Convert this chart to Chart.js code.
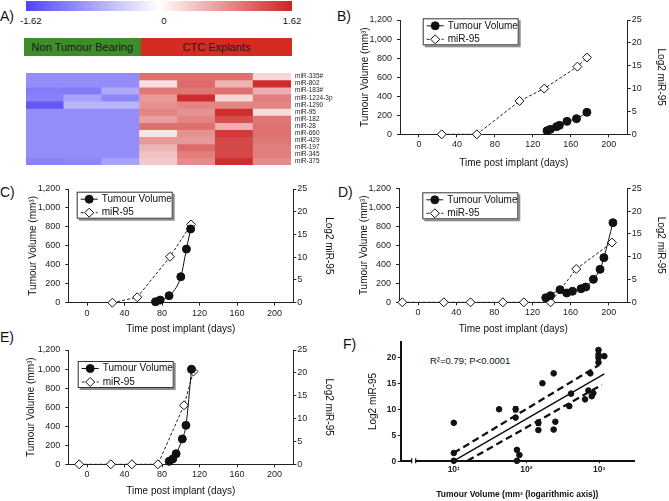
<!DOCTYPE html>
<html>
<head>
<meta charset="utf-8">
<script src="https://cdn.jsdelivr.net/npm/chart.js@4.4.1/dist/chart.umd.min.js"></script>
<style>
  body { margin: 0; width: 669px; height: 501px; position: relative; overflow: hidden; background: #fff;
         font-family: "Liberation Sans", Arial, Helvetica, sans-serif; color: #111; }
  .txt { position: absolute; white-space: nowrap; line-height: 12px; }
  .panel { position: absolute; font-size: 14px; line-height: 14px; color: #111; }
  .grp { position: absolute; top: 38px; height: 18px; line-height: 18px; text-align: center; font-size: 11px; color: #1a1a1a; }
</style>
</head>
<body>

<div class="panel" style="left:0;top:9px">A)</div>
<div class="panel" style="left:337px;top:9px">B)</div>
<div class="panel" style="left:0;top:185px">C)</div>
<div class="panel" style="left:338px;top:185px">D)</div>
<div class="panel" style="left:0;top:330px">E)</div>
<div class="panel" style="left:343px;top:337px">F)</div>

<div id="colorbar" style="position:absolute;left:26px;top:1px;width:266px;height:10px"></div>
<div id="cbLabels"></div>
<div id="groups"></div>
<div class="txt" style="left:430px;top:355px;font-size:9.5px">R²=0.79; P&lt;0.0001</div>

<script>
// ---------- A) heatmap ----------
const mirLabels = ['miR-335#', 'miR-802', 'miR-183#', 'miR-1224-3p', 'miR-1290', 'miR-95', 'miR-182',
                   'miR-28', 'miR-660', 'miR-429', 'miR-197', 'miR-345', 'miR-375'];
const sampleCols = ['NTB 1', 'NTB 2', 'NTB 3', 'CTC 1', 'CTC 2', 'CTC 3', 'CTC 4'];
const groupNames = ['Non Tumour Bearing', 'CTC Explants'];
// rows follow mirLabels, columns follow sampleCols
const heatValues = [
  [-1.0, -1.0, -1.0, 1.05, 1.05, 1.05, 0.3],
  [-1.0, -1.0, -1.0, 0.25, 1.1, 0.55, 1.55],
  [-1.15, -1.15, -0.75, 1.0, 1.0, 1.05, 0.6],
  [-1.1, -0.8, -1.05, 0.75, 1.55, 0.3, 0.95],
  [-1.45, -0.65, -0.65, 0.8, 0.9, 0.9, 0.9],
  [-1.0, -1.0, -1.0, 0.9, 0.8, 1.55, 0.25],
  [-1.0, -1.0, -1.0, 0.7, 0.9, 1.3, 1.0],
  [-1.0, -1.0, -1.0, 1.05, 1.05, 0.6, 1.05],
  [-1.0, -1.0, -1.0, 0.2, 0.8, 1.45, 1.05],
  [-1.0, -1.0, -1.0, 0.75, 0.75, 1.35, 1.0],
  [-1.0, -1.0, -1.0, 0.55, 1.1, 1.35, 0.95],
  [-1.0, -1.0, -1.0, 0.45, 0.95, 1.35, 0.95],
  [-1.1, -1.05, -0.8, 0.4, 0.85, 1.55, 0.85]
];
const heatMin = -1.62, heatMax = 1.62;
const colorBarTicks = ['-1.62', '0', '1.62'];

// ---------- B) - E) time courses ----------
const dayTicks = [0, 40, 80, 120, 160, 200];
const volTicks = [0, 200, 400, 600, 800, 1000, 1200];
const log2Ticks = [0, 5, 10, 15, 20, 25];

const bTumourDays = [135, 138.5, 145, 148, 156, 166, 177];
const bTumourVol  = [38, 52, 80, 94, 136, 164, 231];
const bMirDays    = [24, 61, 106, 132, 167, 177];
const bMirLog2    = [0, 0, 7.3, 10.0, 14.8, 16.8];

const cTumourDays = [73, 78, 87.5, 100, 106, 110.5];
const cTumourVol  = [10, 28, 74, 274, 566, 778];
const cMirDays    = [27, 53.5, 88.5, 111];
const cMirLog2    = [0, 1.2, 10.1, 17.2];

const dTumourDays = [134, 139, 149, 156, 162, 171, 176, 184, 191, 195, 204.5];
const dTumourVol  = [48, 70, 133, 98, 116, 143, 161, 242, 347, 470, 838];
const dMirDays    = [-16.5, 27, 55, 89, 111, 139, 166, 203.5];
const dMirLog2    = [0, 0, 0, 0, 0, 0, 7.3, 13.1];

const eTumourDays = [87.6, 91.4, 95, 101.6, 105.5, 111.4];
const eTumourVol  = [31, 56, 111, 266, 409, 998];
const eMirDays    = [-8.4, 25.3, 47.8, 75.6, 103.4, 113.5];
const eMirLog2    = [0, 0, 0, 0, 12.9, 20.3];

// ---------- F) correlation ----------
const fVolume = [10, 10, 10, 42, 71, 71, 74, 80, 74, 146, 146, 166, 237, 237, 250, 389, 411,
                 640, 711, 791, 757, 832, 980, 980, 980, 980, 1180];
const fLog2   = [7.4, 1.6, 0.1, 10.0, 10.0, 8.4, 2.2, 1.2, 0.1, 7.4, 6.0, 15.0, 16.9, 6.1, 7.6, 10.6, 13.0,
                 11.9, 13.6, 12.5, 16.9, 13.1, 21.4, 20.5, 19.9, 19.0, 20.2];
const fErrVolume = [71, 146];
const fErrLog2   = [10.0, 7.4];
const fErrSize   = [0.5, 0.5];
const fitX   = [10, 1180];
const fitY   = [0.1, 16.8];
const upperX = [10, 1000];
const upperY = [1.6, 18.5];
const lowerX = [15.5, 1090];
const lowerY = [0.1, 14.7];
const fXTicks = [10, 100, 1000];
const fXTickLabels = ['10¹', '10²', '10³'];
const fYTicks = [0, 5, 10, 15, 20];

const FONT = '"Liberation Sans", Arial, Helvetica, sans-serif';
Chart.defaults.font.family = FONT;
Chart.defaults.color = '#222';

function heatColor(v) {
  const t = Math.max(-1, Math.min(1, v / heatMax));
  const end = t < 0 ? [80, 70, 245] : [205, 35, 35];
  const k = Math.abs(t);
  const c = end.map(e => Math.round(255 + (e - 255) * k));
  return `rgb(${c[0]},${c[1]},${c[2]})`;
}

function makeCanvas(box) {
  const c = document.createElement('canvas');
  c.width = box.w; c.height = box.h;
  c.style.cssText = `position:absolute;left:${box.l}px;top:${box.t}px;width:${box.w}px;height:${box.h}px`;
  document.body.appendChild(c);
  return c;
}

// colour bar + group bar (legend parts of the heatmap)
document.getElementById('colorbar').style.background =
  `linear-gradient(to right, ${heatColor(heatMin)}, #fff 50%, ${heatColor(heatMax)})`;
const cbPos = [[20, 'left'], [164, 'center'], [292, 'center']];
document.getElementById('cbLabels').innerHTML = colorBarTicks.map((t, i) => {
  const [x, al] = cbPos[i];
  const shift = al === 'center' ? 'transform:translateX(-50%);' : '';
  return `<div class="txt" style="left:${x}px;top:15px;font-size:9.5px;${shift}">${t}</div>`;
}).join('');
const grpColors = ['#3f8c2b', '#d52b23'];
let gx = 24;
document.getElementById('groups').innerHTML = groupNames.map((g, i) => {
  const w = i === 0 ? 116.7 : 151.6;
  const s = `<div class="grp" style="left:${gx}px;width:${w}px;background:${grpColors[i]}">${g}</div>`;
  gx += w;
  return s;
}).join('');

new Chart(makeCanvas({ l: 26, t: 65, w: 310, h: 108 }), {
  type: 'bar',
  data: {
    labels: sampleCols,
    datasets: mirLabels.map((name, r) => ({
      label: name,
      data: sampleCols.map(() => 1),
      backgroundColor: heatValues[r].map(heatColor),
      borderWidth: 0,
      barPercentage: 1,
      categoryPercentage: 1
    }))
  },
  options: {
    responsive: false, animation: false, devicePixelRatio: 1,
    layout: { padding: { top: 5, bottom: 5.3, left: 0, right: 0 } },
    plugins: { legend: { display: false }, tooltip: { enabled: false } },
    scales: {
      x: { stacked: true, display: false },
      y: { stacked: true, display: false, min: 0, max: mirLabels.length, reverse: true },
      y2: {
        type: 'category', labels: mirLabels, position: 'right', offset: true,
        grid: { display: false, drawTicks: false }, border: { display: false },
        ticks: { font: { size: 6.5 }, color: '#222', padding: 4, autoSkip: false },
        afterFit: s => { s.width = 45; }
      }
    }
  }
});

// legend box drawn from the datasets
const boxLegend = {
  id: 'boxLegend',
  afterDraw(chart, args, o) {
    const ctx = chart.ctx, a = chart.chartArea;
    const x = a.left + o.x, y = a.top + o.y, w = 96, h = 27;
    ctx.save();
    ctx.fillStyle = '#8c8c8c'; ctx.fillRect(x + 2, y + 2, w, h);
    ctx.fillStyle = '#fff'; ctx.fillRect(x, y, w, h);
    ctx.strokeStyle = '#333'; ctx.lineWidth = 1; ctx.strokeRect(x + 0.5, y + 0.5, w - 1, h - 1);
    chart.data.datasets.forEach((ds, i) => {
      const ry = y + 7.5 + i * 13.5;
      ctx.strokeStyle = ds.borderColor; ctx.lineWidth = ds.borderWidth;
      ctx.setLineDash(ds.borderDash || []);
      ctx.beginPath(); ctx.moveTo(x + 4, ry); ctx.lineTo(x + 21, ry); ctx.stroke();
      ctx.setLineDash([]);
      const r = ds.pointRadius, px = x + 12.5;
      ctx.beginPath();
      if (ds.pointStyle === 'rectRot') {
        ctx.moveTo(px, ry - r); ctx.lineTo(px + r, ry); ctx.lineTo(px, ry + r); ctx.lineTo(px - r, ry); ctx.closePath();
      } else {
        ctx.arc(px, ry, r, 0, Math.PI * 2);
      }
      ctx.fillStyle = ds.pointBackgroundColor; ctx.fill();
      ctx.strokeStyle = ds.pointBorderColor; ctx.lineWidth = 1; ctx.stroke();
      ctx.fillStyle = '#111'; ctx.font = '10px ' + FONT; ctx.textBaseline = 'middle';
      ctx.fillText(ds.label, x + 25, ry);
    });
    ctx.restore();
  }
};

function geom(box, area, titles, lh) {
  return {
    leftW: area.l - box.l,
    rightW: box.l + box.w - area.r,
    bottomH: box.t + box.h - area.b,
    topPad: area.t - box.t,
    leftTitlePad: titles.left - box.l - lh / 2,
    rightTitlePad: box.l + box.w - titles.right - lh / 2,
    xTitlePad: box.t + box.h - titles.bottom - lh / 2
  };
}

function axisGrid(len) {
  return { display: true, drawOnChartArea: false, drawTicks: true, tickLength: len, color: '#222' };
}

function timeCourse(box, area, titles, legendAt, tumourDays, tumourVol, mirDays, mirLog2) {
  const g = geom(box, area, titles, 12);
  const tickFont = { size: 9 };
  new Chart(makeCanvas(box), {
    type: 'scatter',
    data: {
      datasets: [
        {
          label: 'Tumour Volume', yAxisID: 'y', showLine: true, clip: false,
          data: tumourDays.map((d, i) => ({ x: d, y: tumourVol[i] })),
          borderColor: '#111', borderWidth: 1, cubicInterpolationMode: 'monotone',
          pointStyle: 'circle', pointRadius: 4, pointBackgroundColor: '#111', pointBorderColor: '#111'
        },
        {
          label: 'miR-95', yAxisID: 'y2', showLine: true, clip: false,
          data: mirDays.map((d, i) => ({ x: d, y: mirLog2[i] })),
          borderColor: '#222', borderWidth: 1, borderDash: [3, 2],
          pointStyle: 'rectRot', pointRadius: 4.5, pointBackgroundColor: '#fff',
          pointBorderColor: '#111', pointBorderWidth: 1
        }
      ]
    },
    options: {
      responsive: false, animation: false, devicePixelRatio: 1,
      layout: { padding: { top: g.topPad, left: 0, right: 0, bottom: 0 } },
      plugins: { legend: { display: false }, tooltip: { enabled: false }, boxLegend: legendAt },
      scales: {
        x: {
          type: 'linear', min: -20, max: 220,
          afterBuildTicks: s => { s.ticks = dayTicks.map(v => ({ value: v })); },
          afterFit: s => { s.height = g.bottomH; },
          grid: axisGrid(3), border: { display: true, color: '#222', width: 1 },
          ticks: { font: tickFont, color: '#222', padding: 2, maxRotation: 0, autoSkip: false },
          title: { display: true, text: 'Time post implant (days)', font: { size: 10 }, color: '#111',
                   padding: { top: 0, bottom: g.xTitlePad } }
        },
        y: {
          position: 'left', min: 0, max: 1200,
          afterBuildTicks: s => { s.ticks = volTicks.map(v => ({ value: v })); },
          afterFit: s => { s.width = g.leftW; },
          grid: axisGrid(3), border: { display: true, color: '#222', width: 1 },
          ticks: { font: tickFont, color: '#222', padding: 5 },
          title: { display: true, text: 'Tumour Volume (mm³)', font: { size: 10 }, color: '#111',
                   padding: { top: g.leftTitlePad, bottom: 0 } }
        },
        y2: {
          position: 'right', min: 0, max: 25,
          afterBuildTicks: s => { s.ticks = log2Ticks.map(v => ({ value: v })); },
          afterFit: s => { s.width = g.rightW; },
          grid: axisGrid(3), border: { display: true, color: '#222', width: 1 },
          ticks: { font: tickFont, color: '#222', padding: 1 },
          title: { display: true, text: 'Log2 miR-95', font: { size: 10 }, color: '#111',
                   padding: { top: g.rightTitlePad, bottom: 0 } }
        }
      }
    },
    plugins: [boxLegend]
  });
}

timeCourse({ l: 355, t: 0, w: 314, h: 175 }, { l: 400, t: 20, r: 627.7, b: 134.3 },
           { left: 365.7, right: 661, bottom: 163.3 }, { x: 22.7, y: -1.7 },
           bTumourDays, bTumourVol, bMirDays, bMirLog2);
timeCourse({ l: 22, t: 175, w: 316, h: 160 }, { l: 68.3, t: 189, r: 293.3, b: 302.7 },
           { left: 33.3, right: 328.3, bottom: 329 }, { x: 8.4, y: 2.7 },
           cTumourDays, cTumourVol, cMirDays, cMirLog2);
timeCourse({ l: 355, t: 175, w: 314, h: 160 }, { l: 399, t: 188.3, r: 627.7, b: 302.3 },
           { left: 364.3, right: 661, bottom: 329 }, { x: 23.3, y: 4 },
           dTumourDays, dTumourVol, dMirDays, dMirLog2);
timeCourse({ l: 22, t: 335, w: 316, h: 166 }, { l: 68.3, t: 350, r: 293.3, b: 464.3 },
           { left: 31.7, right: 328.3, bottom: 491.7 }, { x: 9.4, y: 11 },
           eTumourDays, eTumourVol, eMirDays, eMirLog2);

// ---------- F) ----------
const errorBars = {
  id: 'errorBars',
  afterDatasetsDraw(chart) {
    const { ctx, scales: { x, y } } = chart;
    ctx.save();
    ctx.strokeStyle = '#111'; ctx.lineWidth = 1.3;
    fErrVolume.forEach((v, i) => {
      const px = x.getPixelForValue(v);
      const y1 = y.getPixelForValue(fErrLog2[i] - fErrSize[i]);
      const y2 = y.getPixelForValue(fErrLog2[i] + fErrSize[i]);
      ctx.beginPath();
      ctx.moveTo(px, y1); ctx.lineTo(px, y2);
      ctx.moveTo(px - 2.5, y1); ctx.lineTo(px + 2.5, y1);
      ctx.moveTo(px - 2.5, y2); ctx.lineTo(px + 2.5, y2);
      ctx.stroke();
    });
    ctx.restore();
  }
};
const axisBreak = {
  id: 'axisBreak',
  afterDraw(chart) {
    const { ctx, chartArea: a } = chart;
    const x0 = a.left + 11, gap = 4;
    ctx.save();
    ctx.fillStyle = '#fff'; ctx.fillRect(x0, a.bottom - 2, gap, 4);
    ctx.strokeStyle = '#111'; ctx.lineWidth = 1.2;
    ctx.beginPath();
    ctx.moveTo(x0, a.bottom - 3); ctx.lineTo(x0, a.bottom + 2);
    ctx.moveTo(x0 + gap, a.bottom - 3); ctx.lineTo(x0 + gap, a.bottom + 2);
    ctx.stroke();
    ctx.restore();
  }
};

(function () {
  const box = { l: 365, t: 335, w: 304, h: 166 };
  const area = { l: 400.7, t: 340.7, r: 634, b: 461.3 };
  const leftW = area.l - box.l;
  const bottomH = box.t + box.h - area.b;
  const line = (xs, ys, dash, w) => ({
    data: xs.map((v, i) => ({ x: v, y: ys[i] })), showLine: true, pointRadius: 0,
    borderColor: '#111', borderWidth: w, borderDash: dash, clip: false
  });
  new Chart(makeCanvas(box), {
    type: 'scatter',
    data: {
      datasets: [
        { data: fVolume.map((v, i) => ({ x: v, y: fLog2[i] })), pointRadius: 2.8,
          pointBackgroundColor: '#111', pointBorderColor: '#111', clip: false },
        line(fitX, fitY, [], 1.5),
        line(upperX, upperY, [7, 4], 2.3),
        line(lowerX, lowerY, [7, 4], 2.3)
      ]
    },
    options: {
      responsive: false, animation: false, devicePixelRatio: 1,
      layout: { padding: { top: area.t - box.t, right: box.l + box.w - area.r, left: 0, bottom: 0 } },
      plugins: { legend: { display: false }, tooltip: { enabled: false } },
      scales: {
        x: {
          type: 'logarithmic', min: 1.86, max: 3020,
          afterBuildTicks: s => { s.ticks = fXTicks.map(v => ({ value: v })); },
          afterFit: s => { s.height = bottomH; },
          grid: axisGrid(2), border: { display: true, color: '#111', width: 2 },
          ticks: { font: { size: 8.5, weight: 'bold' }, color: '#222', padding: 1, maxRotation: 0, autoSkip: false,
                   callback: v => fXTickLabels[fXTicks.indexOf(v)] },
          title: { display: true, text: 'Tumour Volume (mm³ (logarithmic axis))', color: '#111',
                   font: { size: 8.5, weight: 'bold' }, padding: { top: 0, bottom: 0.9 } }
        },
        y: {
          min: 0, max: 23,
          afterBuildTicks: s => { s.ticks = fYTicks.map(v => ({ value: v })); },
          afterFit: s => { s.width = leftW; },
          grid: axisGrid(3), border: { display: true, color: '#111', width: 2 },
          ticks: { font: { size: 8.5, weight: 'bold' }, color: '#222', padding: 1.5 },
          title: { display: true, text: 'Log2 miR-95', font: { size: 10 }, color: '#111',
                   padding: { top: 373.3 - box.l - 6, bottom: 0 } }
        }
      }
    },
    plugins: [errorBars, axisBreak]
  });
})();
</script>
</body>
</html>
